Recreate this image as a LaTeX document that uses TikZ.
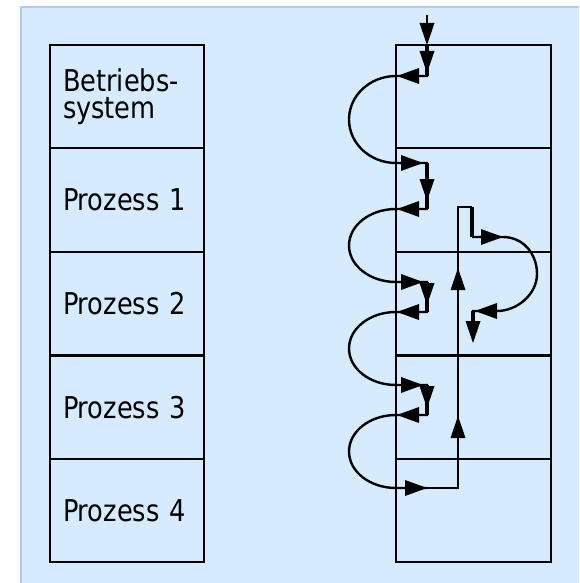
\documentclass[tikz,border=0pt]{standalone}
\usepackage{fontspec}
\setmainfont{DejaVu Sans Condensed}[FakeStretch=0.95]
\definecolor{bgfill}{RGB}{214,235,253}
\definecolor{bgedge}{RGB}{178,202,228}
\tikzset{
  lbox/.style={draw=black, line width=1.7pt, minimum width=154pt, minimum height=103.4pt,
    inner xsep=13pt, text width=128pt, align=left, font=\fontsize{30}{27}\selectfont},
  rbox/.style={draw=black, line width=1.6pt, minimum width=155pt, minimum height=103.4pt},
  curve/.style={line width=2.4pt, line join=miter},
  vline/.style={line width=4pt},
  thinline/.style={line width=2pt, line join=miter},
}
% filled arrowheads: tip at #1
\newcommand\ahR[1]{\fill (#1) -- ++(-22,-8) -- ++(0,16) -- cycle;}
\newcommand\ahL[1]{\fill (#1) -- ++(22,-8) -- ++(0,16) -- cycle;}
\newcommand\ahD[1]{\fill (#1) -- ++(-7.5,-22) -- ++(15,0) -- cycle;}
\newcommand\ahU[1]{\fill (#1) -- ++(-7.5,22) -- ++(15,0) -- cycle;}
\begin{document}
\begin{tikzpicture}[x=1pt,y=-1pt]
\useasboundingbox (0,0) rectangle (579,583);
\fill[bgfill] (20,6) rectangle (579,583);
\draw[bgedge, line width=2.5pt] (21,583) -- (21,7) -- (579,7);
% left column
\node[lbox] (os) at (127,96.5) {Betriebs-\\system};
\node[lbox] (p1) at (127,200) {Prozess 1};
\node[lbox] (p2) at (127,303.5) {Prozess 2};
\node[lbox] (p3) at (127,407.5) {Prozess 3};
\node[lbox] (p4) at (127,510.5) {Prozess 4};
% right column
\node[rbox] (r0) at (473.5,96.5) {};
\node[rbox] (r1) at (473.5,200) {};
\node[rbox] (r2) at (473.5,303.5) {};
\node[rbox] (r3) at (473.5,407.5) {};
\node[rbox] (r4) at (473.5,510.5) {};
% key points
\coordinate (in) at (427,15);
\coordinate (t0) at (427,45);
\coordinate (c0) at (427,76);
\coordinate (a0) at (396,76);
\coordinate (b1) at (396,163);
\coordinate (c1) at (427,163);
\coordinate (d1) at (427,209);
\coordinate (a1) at (396,209);
\coordinate (b2) at (396,282);
\coordinate (c2) at (427,282);
\coordinate (d2) at (427,312);
\coordinate (a2) at (396,312);
\coordinate (b3) at (396,385);
\coordinate (c3) at (427,385);
\coordinate (d3) at (427,415);
\coordinate (a3) at (396,415);
\coordinate (b4) at (396,488);
\coordinate (m4) at (427,488);
\coordinate (e4) at (458,488);
\coordinate (u1) at (458,416);
\coordinate (u2) at (458,268);
\coordinate (ut) at (458,207);
\coordinate (ft) at (472,207);
\coordinate (fb) at (472,237);
\coordinate (fr) at (503,237);
\coordinate (gr) at (497,311);
\coordinate (gc) at (473,311);
\coordinate (ge) at (473,343);
% incoming line
\draw[curve] (in) -- (427,36);
% main chain
\draw[curve] (t0) -- (c0) -- (a0)
  .. controls (370,76) and (349,95.5) .. (349,119.5)
  .. controls (349,143.5) and (370,163) .. (b1) -- (c1) -- (d1) -- (a1)
  .. controls (370,209) and (349,225.3) .. (349,245.5)
  .. controls (349,265.7) and (370,282) .. (b2) -- (c2) -- (d2) -- (a2)
  .. controls (370,312) and (349,328.3) .. (349,348.5)
  .. controls (349,368.7) and (370,385) .. (b3) -- (c3) -- (d3) -- (a3)
  .. controls (370,415) and (349,431.3) .. (349,451.5)
  .. controls (349,471.7) and (370,488) .. (b4) -- (m4);
\draw[thinline] (m4) -- (e4) -- (ut) -- (ft);
% thick vertical pieces
\draw[vline] (t0) -- (c0);
\draw[vline] (c1) -- (d1);
\draw[vline] (c2) -- (d2);
\draw[vline] (c3) -- (d3);
\draw[vline] (ft) -- (fb);
% right loop
\draw[curve] (fb) -- (fr)
  .. controls (523,237) and (537,253.6) .. (537,274)
  .. controls (537,294.4) and (517,311) .. (gr) -- (gc) -- (473,334);
\draw[vline] (gc) -- (473,322);
% arrowheads
\ahD{t0}
\ahD{427,73}
\ahL{397,76}
\ahR{423,163}
\ahD{427,201}
\ahL{397,209}
\ahR{423,282}
\ahD{427,305}
\ahL{397,312}
\ahR{423,385}
\ahD{427,408}
\ahL{397,415}
\ahR{m4}
\ahU{u1}
\ahU{u2}
\ahR{fr}
\ahL{475,311}
\ahD{ge}
\end{tikzpicture}
\end{document}
